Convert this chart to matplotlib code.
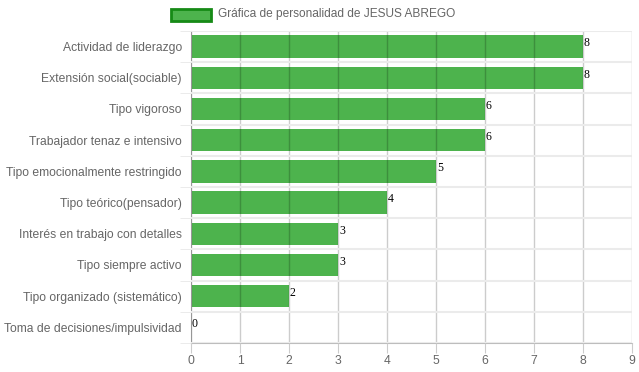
import numpy as np
import matplotlib.pyplot as plt
from matplotlib.patches import Rectangle

# datos de la gráfica
categorias = [
    'Actividad de liderazgo',
    'Extensión social(sociable)',
    'Tipo vigoroso',
    'Trabajador tenaz e intensivo',
    'Tipo emocionalmente restringido',
    'Tipo teórico(pensador)',
    'Interés en trabajo con detalles',
    'Tipo siempre activo',
    'Tipo organizado (sistemático)',
    'Toma de decisiones/impulsividad',
]
valores = [8, 8, 6, 6, 5, 4, 3, 3, 2, 0]
titulo_leyenda = 'Gráfica de personalidad de JESUS ABREGO'

W, H = 639, 372
fig = plt.figure(figsize=(W / 100, H / 100), dpi=100)
ax = fig.add_axes([191 / W, (H - 343) / H, (632 - 191) / W, (343 - 31) / H])

verde = '#4db34d'
y = np.arange(len(categorias))
ax.barh(y, valores, height=0.72, color=verde, zorder=1)

# etiquetas de valor
for yi, v in zip(y, valores):
    ax.text(v + 0.02, yi - 0.1, str(v), fontsize=8.5, family='Liberation Serif',
            color='black', ha='left', va='center', zorder=3)

ax.set_xlim(0, 9)
ax.set_ylim(len(categorias) - 0.5, -0.5)
ax.set_xticks(range(10))
ax.set_yticks(y)
ax.set_yticklabels(categorias)
ax.set_yticks(np.arange(-0.5, len(categorias)), minor=True)

ax.tick_params(axis='x', length=7, color='#cccccc', labelcolor='#666666',
               labelsize=8.7, pad=2)
ax.tick_params(axis='y', which='major', length=0, labelcolor='#666666',
               labelsize=8.7, pad=6.5)
ax.tick_params(axis='y', which='minor', length=8, color='#e8e8e8')
for lab in ax.get_xticklabels() + ax.get_yticklabels():
    lab.set_family('Liberation Sans')

ax.grid(axis='x', color='black', alpha=0.2, linewidth=1, zorder=2)
ax.grid(axis='y', which='minor', color='#ebebeb', linewidth=1.5, zorder=2)
ax.set_axisbelow(False)

for s in ['top', 'right']:
    ax.spines[s].set_visible(False)
ax.spines['left'].set_color('#bdbdbd')
ax.spines['bottom'].set_color('#bdbdbd')

# leyenda al estilo de chart.js
fig.patches.append(Rectangle((171 / W, (H - 21) / H), 40 / W, 12 / H,
                             transform=fig.transFigure, facecolor=verde,
                             edgecolor='#168a16', linewidth=2))
fig.text(218 / W, (H - 14.5) / H, titulo_leyenda, fontsize=8.6,
         family='Liberation Sans', color='#666666', ha='left', va='center')

fig.savefig('out.png', dpi=100)
